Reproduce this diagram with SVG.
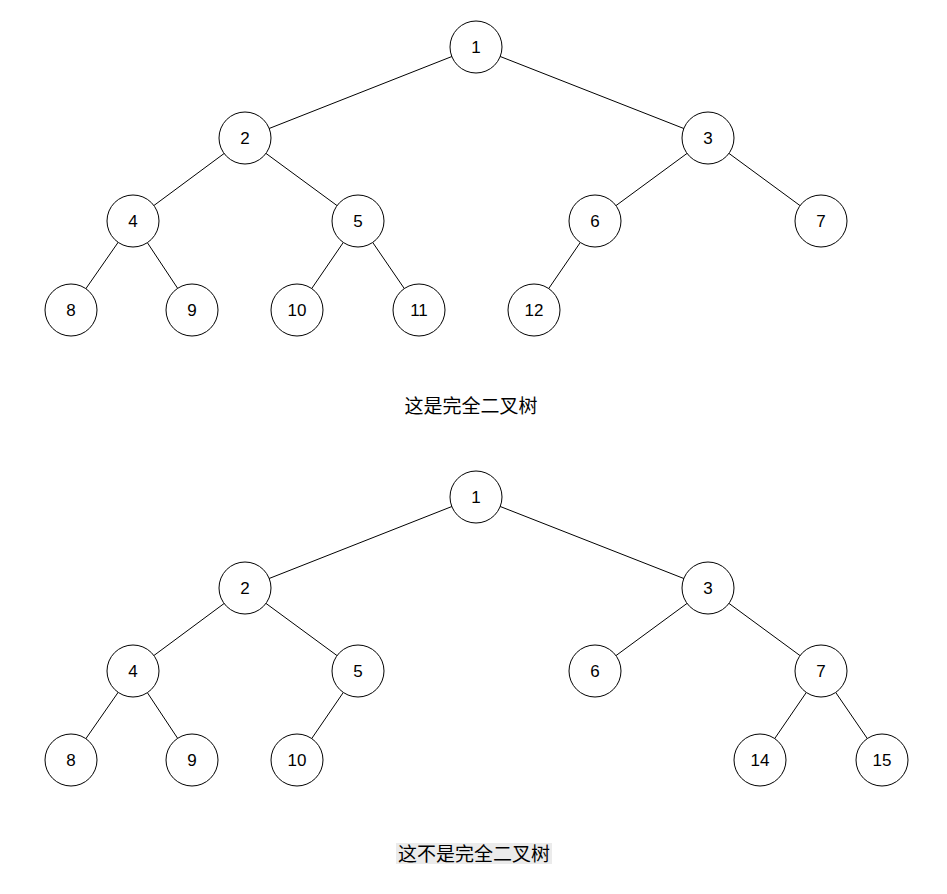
<svg xmlns="http://www.w3.org/2000/svg" width="947" height="894" viewBox="0 0 947 894">
<style>
circle{fill:#fff;stroke:#000;stroke-width:1}
line{stroke:#000;stroke-width:1}
text{font-family:"Liberation Sans","Noto Sans CJK SC",sans-serif;font-size:17px;text-anchor:middle;dominant-baseline:central}
.lbl{font-size:19px}
</style>
<rect width="947" height="894" fill="#fff"/>
<g id="connectors">
<line x1="476" y1="47" x2="245" y2="138"/><line x1="476" y1="47" x2="708" y2="138"/>
<line x1="245" y1="138" x2="133" y2="221"/><line x1="245" y1="138" x2="358" y2="221"/>
<line x1="708" y1="138" x2="595" y2="221"/><line x1="708" y1="138" x2="821" y2="221"/>
<line x1="133" y1="221" x2="71" y2="310"/><line x1="133" y1="221" x2="192" y2="310"/>
<line x1="358" y1="221" x2="297" y2="310"/><line x1="358" y1="221" x2="419" y2="310"/>
<line x1="595" y1="221" x2="534" y2="310"/>
<line x1="476" y1="497" x2="245" y2="588"/><line x1="476" y1="497" x2="708" y2="588"/>
<line x1="245" y1="588" x2="133" y2="671"/><line x1="245" y1="588" x2="358" y2="671"/>
<line x1="708" y1="588" x2="595" y2="671"/><line x1="708" y1="588" x2="821" y2="671"/>
<line x1="133" y1="671" x2="71" y2="760"/><line x1="133" y1="671" x2="192" y2="760"/>
<line x1="358" y1="671" x2="297" y2="760"/>
<line x1="821" y1="671" x2="760" y2="760"/><line x1="821" y1="671" x2="882" y2="760"/>
</g>
<g id="a1"><circle cx="476" cy="47" r="26"/><text x="476" y="47">1</text></g>
<g id="a2"><circle cx="245" cy="138" r="26"/><text x="245" y="138">2</text></g>
<g id="a3"><circle cx="708" cy="138" r="26"/><text x="708" y="138">3</text></g>
<g id="a4"><circle cx="133" cy="221" r="26"/><text x="133" y="221">4</text></g>
<g id="a5"><circle cx="358" cy="221" r="26"/><text x="358" y="221">5</text></g>
<g id="a6"><circle cx="595" cy="221" r="26"/><text x="595" y="221">6</text></g>
<g id="a7"><circle cx="821" cy="221" r="26"/><text x="821" y="221">7</text></g>
<g id="a8"><circle cx="71" cy="310" r="26"/><text x="71" y="310">8</text></g>
<g id="a9"><circle cx="192" cy="310" r="26"/><text x="192" y="310">9</text></g>
<g id="a10"><circle cx="297" cy="310" r="26"/><text x="297" y="310">10</text></g>
<g id="a11"><circle cx="419" cy="310" r="26"/><text x="419" y="310">11</text></g>
<g id="a12"><circle cx="534" cy="310" r="26"/><text x="534" y="310">12</text></g>
<g id="label1"><text class="lbl" x="471" y="406">这是完全二叉树</text></g>
<g id="b1"><circle cx="476" cy="497" r="26"/><text x="476" y="497">1</text></g>
<g id="b2"><circle cx="245" cy="588" r="26"/><text x="245" y="588">2</text></g>
<g id="b3"><circle cx="708" cy="588" r="26"/><text x="708" y="588">3</text></g>
<g id="b4"><circle cx="133" cy="671" r="26"/><text x="133" y="671">4</text></g>
<g id="b5"><circle cx="358" cy="671" r="26"/><text x="358" y="671">5</text></g>
<g id="b6"><circle cx="595" cy="671" r="26"/><text x="595" y="671">6</text></g>
<g id="b7"><circle cx="821" cy="671" r="26"/><text x="821" y="671">7</text></g>
<g id="b8"><circle cx="71" cy="760" r="26"/><text x="71" y="760">8</text></g>
<g id="b9"><circle cx="192" cy="760" r="26"/><text x="192" y="760">9</text></g>
<g id="b10"><circle cx="297" cy="760" r="26"/><text x="297" y="760">10</text></g>
<g id="b14"><circle cx="760" cy="760" r="26"/><text x="760" y="760">14</text></g>
<g id="b15"><circle cx="882" cy="760" r="26"/><text x="882" y="760">15</text></g>
<g id="label2"><rect x="396" y="843" width="156" height="21" fill="#ebebeb"/><text class="lbl" x="474" y="854">这不是完全二叉树</text></g>
</svg>
